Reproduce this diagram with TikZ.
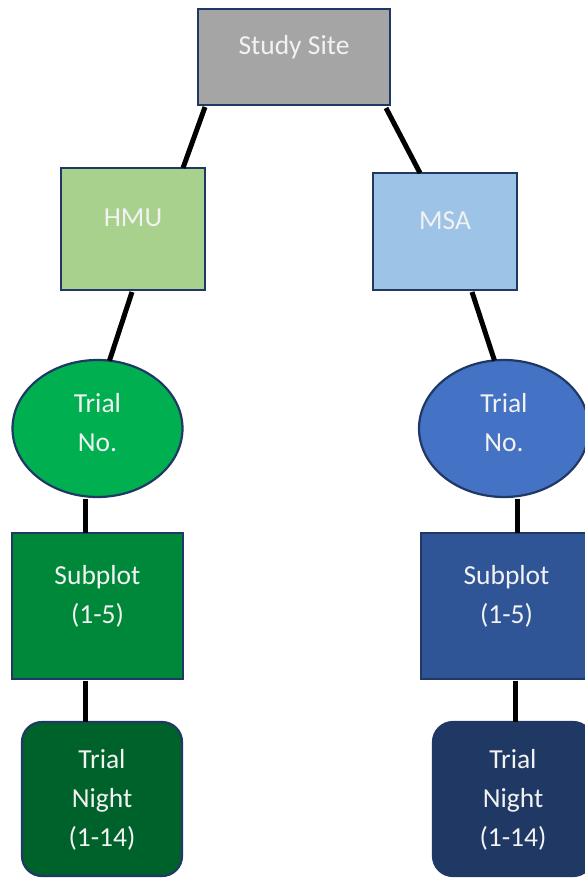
\documentclass[tikz,border=0pt]{standalone}
\usepackage{fontspec}
\setmainfont{Carlito}
\usetikzlibrary{shapes, arrows.meta, positioning, calc}

\definecolor{edgeNavy}{HTML}{1F3864}
\definecolor{labelWhite}{HTML}{F2F2F2}
\definecolor{siteGray}{HTML}{A5A5A5}
\definecolor{hmuGreen}{HTML}{A9D18E}
\definecolor{msaBlue}{HTML}{9DC3E6}
\definecolor{trialGreen}{HTML}{00B050}
\definecolor{trialBlue}{HTML}{4472C4}
\definecolor{subGreen}{HTML}{00883A}
\definecolor{subBlue}{HTML}{2F5597}
\definecolor{nightGreen}{HTML}{00622B}
\definecolor{nightBlue}{HTML}{203864}

\begin{document}
\begin{tikzpicture}[
        x=1pt, y=1pt,
        base/.style={draw=edgeNavy, line width=2.2pt, inner sep=0pt, outer sep=0pt, align=center, text=labelWhite, font=\fontsize{27.5}{39}\selectfont},
        level/.style={base, rectangle, text height=18pt, text depth=23pt},
        trial/.style={base, ellipse, minimum width=170pt, minimum height=137pt, text height=45pt, text depth=0pt},
        subplot/.style={base, rectangle, minimum width=171pt, minimum height=146pt, text height=34pt, text depth=0pt},
        night/.style={base, rectangle, rounded corners=20pt, minimum width=160pt, minimum height=154pt, text height=94pt, text depth=0pt},
        link/.style={line width=5pt, black}
    ]
        \useasboundingbox (0,0) rectangle (585,-878);
        \clip (0,0) rectangle (585,-878);

        % Nodes
        \node[level, fill=siteGray, minimum width=192pt, minimum height=96pt] (site) at (294,-57) {Study Site};
        \node[level, fill=hmuGreen, minimum width=144pt, minimum height=122pt, below=63pt of site, xshift=-161pt] (hmu) {HMU};
        \node[level, fill=msaBlue, minimum width=144pt, minimum height=117pt, below=68pt of site, xshift=151pt] (msa) {MSA};

        \node[trial, fill=trialGreen, below=70pt of hmu, xshift=-35.5pt] (trialL) {Trial\\No.};
        \node[trial, fill=trialBlue, below=70pt of msa, xshift=59pt] (trialR) {Trial\\No.};

        \node[subplot, fill=subGreen, below=36pt of trialL] (subL) {Subplot\\(1-5)};
        \node[subplot, fill=subBlue, below=36pt of trialR, xshift=2.5pt] (subR) {Subplot\\(1-5)};

        \node[night, fill=nightGreen, below=43pt of subL, xshift=4.5pt] (nightL) {Trial\\Night\\(1-14)};
        \node[night, fill=nightBlue, below=43pt of subR, xshift=6.5pt] (nightR) {Trial\\Night\\(1-14)};

        % Paths
        \draw[link] ([xshift=7pt, yshift=-2pt]site.south west) -- ([xshift=-22pt]hmu.north east);
        \draw[link] ([xshift=-4pt, yshift=-3pt]site.south east) -- ([xshift=47pt]msa.north west);
        \draw[link] ([xshift=-1pt, yshift=-2pt]hmu.south) -- (trialL.80);
        \draw[link] ([xshift=27pt, yshift=-2pt]msa.south) -- (trialR.98);
        \draw[link] ([xshift=-12.5pt, yshift=-1.5pt]trialL.south) -- ([xshift=-12.5pt]subL.north);
        \draw[link] ([xshift=13pt, yshift=-1.5pt]trialR.south) -- ([xshift=10.5pt]subR.north);
        \draw[link] ([xshift=-12.5pt, yshift=-1.5pt]subL.south) -- ([xshift=-17pt]nightL.north);
        \draw[link] ([xshift=8.5pt, yshift=-1.5pt]subR.south) -- ([xshift=2pt]nightR.north);

    \end{tikzpicture}
\end{document}
